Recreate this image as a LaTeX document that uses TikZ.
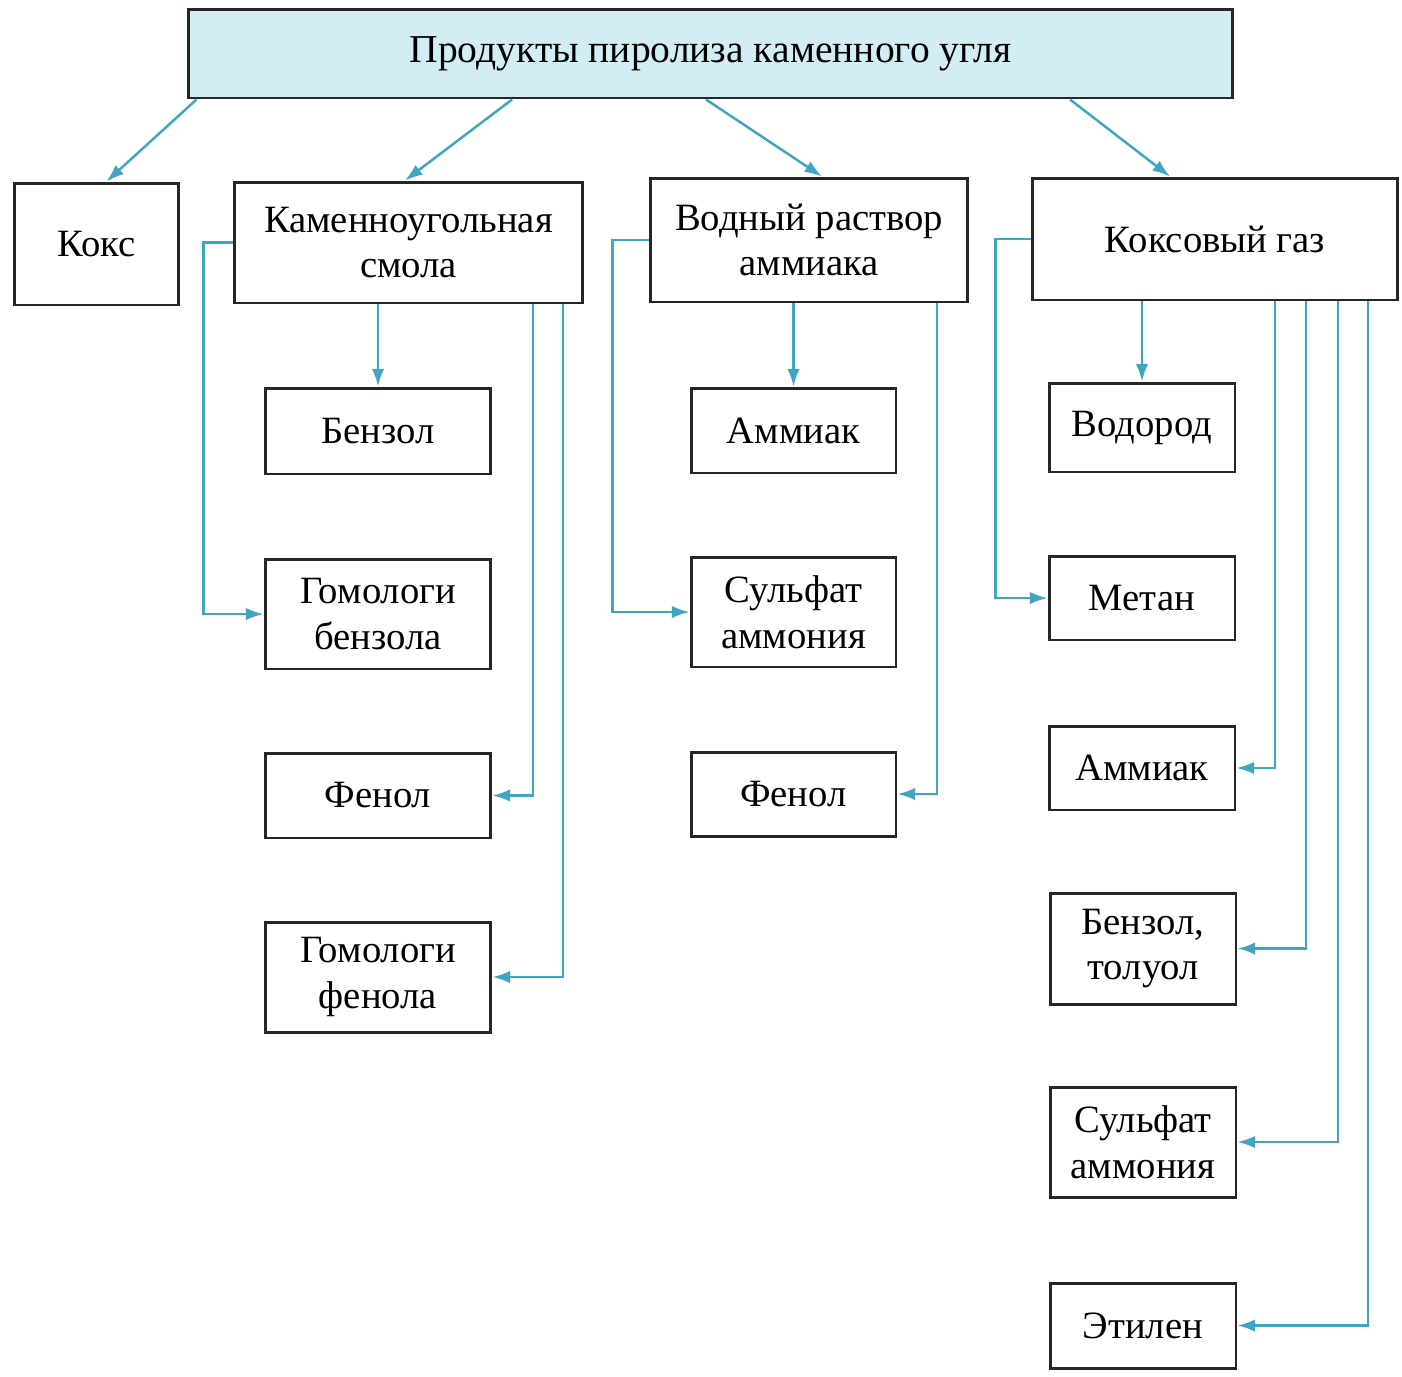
\documentclass[tikz,border=0pt]{standalone}
\usepackage{fontspec}
\setmainfont{Liberation Serif}
\usetikzlibrary{arrows.meta}
\definecolor{conn}{HTML}{3FA6C2}
\definecolor{topfill}{HTML}{D2EEF4}
\definecolor{boxline}{HTML}{262626}
\tikzset{
  box/.style={draw=boxline, line width=1.7pt, fill=white, inner sep=0pt, align=center,
    font=\fontsize{22}{26}\selectfont},
  arr/.style={draw=conn, line width=1.4pt, -{Latex[length=10pt,width=7pt]}},
}
\begin{document}
\begin{tikzpicture}[x={(0.02cm,0)}, y={(0,-0.02cm)}]
\useasboundingbox (0,0) rectangle (1402,1376);
% level 0
\node[box, fill=topfill, minimum width=20.9cm, minimum height=1.78cm, font=\fontsize{22.5}{26}\selectfont] (top) at (710.5,53.5) {Продукты пиролиза каменного угля};
% level 1
\node[box, minimum width=3.3cm, minimum height=2.44cm] (koks) at (96.5,244) {Кокс};
\node[box, minimum width=6.98cm, minimum height=2.42cm] (smola) at (408.5,242.5) {Каменноугольная\\смола};
\node[box, minimum width=6.36cm, minimum height=2.48cm] (vodn) at (809,240) {Водный раствор\\аммиака};
\node[box, minimum width=7.32cm, minimum height=2.44cm] (gaz) at (1215,239) {Коксовый газ};
% column 1
\node[box, minimum width=4.52cm, minimum height=1.72cm] (benz) at (378,431) {Бензол};
\node[box, minimum width=4.52cm, minimum height=2.2cm] (gombenz) at (378,614) {Гомологи\\бензола};
\node[box, minimum width=4.52cm, minimum height=1.7cm] (fenL) at (378,795.5) {Фенол};
\node[box, minimum width=4.52cm, minimum height=2.2cm] (gomfen) at (378,977) {Гомологи\\фенола};
% column 2
\node[box, minimum width=4.1cm, minimum height=1.7cm] (ammM) at (793.5,430.5) {Аммиак};
\node[box, minimum width=4.1cm, minimum height=2.2cm] (sulfM) at (793.5,612) {Сульфат\\аммония};
\node[box, minimum width=4.1cm, minimum height=1.68cm] (fenM) at (793.5,794) {Фенол};
% column 3
\node[box, minimum width=3.72cm, minimum height=1.78cm] (vodor) at (1142,427.5) {Водород};
\node[box, minimum width=3.72cm, minimum height=1.68cm] (metan) at (1142,598) {Метан};
\node[box, minimum width=3.72cm, minimum height=1.68cm] (ammR) at (1142,768) {Аммиак};
\node[box, minimum width=3.72cm, minimum height=2.22cm] (bentol) at (1143,948.5) {Бензол,\\толуол};
\node[box, minimum width=3.72cm, minimum height=2.2cm] (sulfR) at (1143,1142) {Сульфат\\аммония};
\node[box, minimum width=3.72cm, minimum height=1.7cm] (etil) at (1143,1325.5) {Этилен};
% top arrows
\draw[arr] ([shift={(-514,0)}]top.south) -- ([shift={(10,0)}]koks.north);
\draw[arr] ([shift={(-198.5,0)}]top.south) -- ([shift={(-3.5,0)}]smola.north);
\draw[arr] ([shift={(-4.5,0)}]top.south) -- ([shift={(13,0)}]vodn.north);
\draw[arr] ([shift={(359.5,0)}]top.south) -- ([shift={(-45,0)}]gaz.north);
% coal tar
\draw[arr] (smola.west) -- ++(-29,0) |- (gombenz.west);
\draw[arr] (smola.south -| benz.north) -- (benz.north);
\draw[arr] ([shift={(124.5,0)}]smola.south) |- (fenL.east);
\draw[arr] ([shift={(154.5,0)}]smola.south) |- (gomfen.east);
% ammonia water
\draw[arr] (vodn.west) -- ++(-36,0) |- (sulfM.west);
\draw[arr] (vodn.south -| ammM.north) -- (ammM.north);
\draw[arr] ([shift={(128,0)}]vodn.south) |- (fenM.east);
% coke gas
\draw[arr] (gaz.west) -- ++(-35,0) |- (metan.west);
\draw[arr] (gaz.south -| vodor.north) -- (vodor.north);
\draw[arr] ([shift={(60,0)}]gaz.south) |- (ammR.east);
\draw[arr] ([shift={(91,0)}]gaz.south) |- (bentol.east);
\draw[arr] ([shift={(123,0)}]gaz.south) |- (sulfR.east);
\draw[arr] ([shift={(153,0)}]gaz.south) |- (etil.east);
\end{tikzpicture}
\end{document}
